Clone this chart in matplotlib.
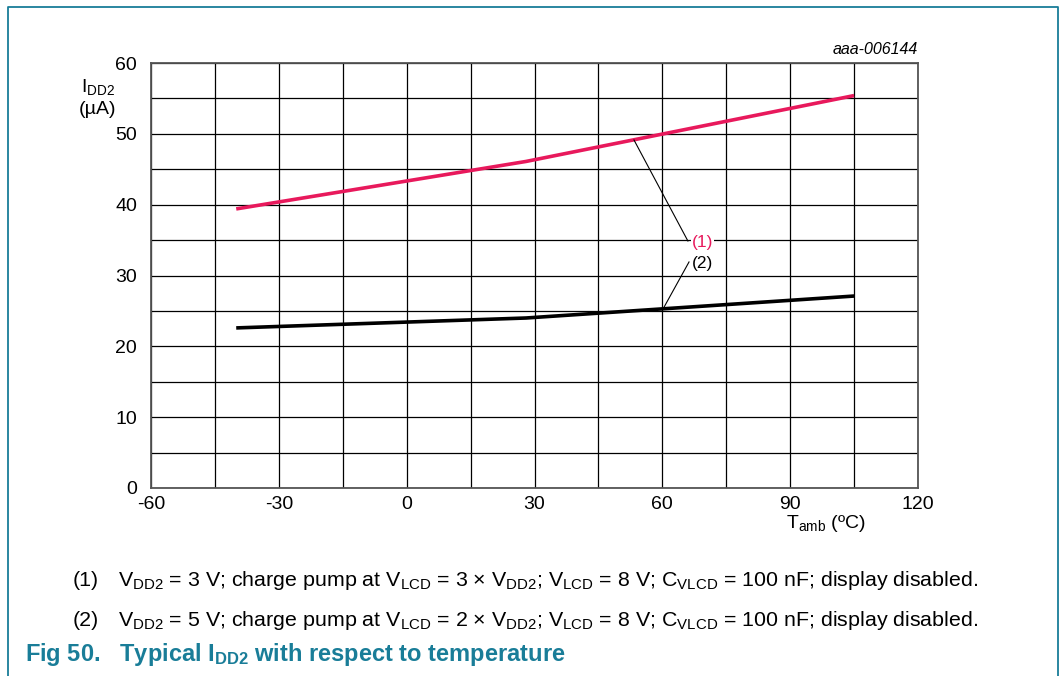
import matplotlib
matplotlib.use("Agg")
import matplotlib.pyplot as plt
from matplotlib.lines import Line2D
import numpy as np

plt.rcParams['font.family'] = ['Liberation Sans', 'DejaVu Sans']
plt.rcParams['mathtext.default'] = 'regular'
plt.rcParams['axes.unicode_minus'] = False

# Data
temps = [-40, 28, 105]
idd2_curve1 = [39.4, 46.1, 55.4]   # (1) VDD2 = 3 V
idd2_curve2 = [22.6, 24.0, 27.1]   # (2) VDD2 = 5 V
x_ticks = [-60, -30, 0, 30, 60, 90, 120]
y_ticks = [0, 10, 20, 30, 40, 50, 60]

RED = '#e8195c'
TEAL = '#197d98'

W, H = 1063, 676
fig = plt.figure(figsize=(W / 100, H / 100), dpi=100)

# axes placement in pixels
L, R, T, B = 151, 918, 63, 488
ax = fig.add_axes([L / W, 1 - B / H, (R - L) / W, (B - T) / H])
ax.set_xlim(-60, 120)
ax.set_ylim(0, 60)
ax.set_xticks(x_ticks)
ax.set_yticks(y_ticks)
ax.set_xticks(np.arange(-60, 121, 15), minor=True)
ax.set_yticks(np.arange(0, 61, 5), minor=True)
ax.grid(True, which='both', color='black', lw=0.9)
ax.tick_params(which='both', length=0, labelsize=14)
ax.tick_params(axis='x', pad=6)
ax.tick_params(axis='y', pad=10)
for s in ax.spines.values():
    s.set_color('#555555')
    s.set_linewidth(1.3)
ax.set_axisbelow(True)

ax.plot(temps, idd2_curve1, color=RED, lw=2.6, solid_capstyle='butt', zorder=3)
ax.plot(temps, idd2_curve2, color='black', lw=2.6, solid_capstyle='butt', zorder=3)

# leader lines and labels
ax.plot([53.35, 66.0], [49.13, 34.87], color='black', lw=0.8, zorder=4)
ax.plot([60.16, 66.26], [25.27, 31.91], color='black', lw=0.8, zorder=4)
ax.text(66.9, 34.6, '(1)', color=RED, fontsize=12.5, ha='left', va='center', zorder=5,
        bbox=dict(facecolor='white', edgecolor='none', pad=0.5))
ax.text(66.9, 31.76, '(2)', color='black', fontsize=12.5, ha='left', va='center', zorder=5,
        bbox=dict(facecolor='white', edgecolor='none', pad=0.5))

def fx(px):
    return px / W

def fy(py):
    return 1 - py / H

fig.text(fx(918), fy(49), 'aaa-006144', fontsize=11.5, style='italic', ha='right', va='center')
fig.text(fx(98), fy(87), 'I$_{DD2}$', fontsize=14, ha='center', va='center')
fig.text(fx(98), fy(110), '(µA)', fontsize=14, ha='center', va='center')
fig.text(fx(826), fy(524), 'T$_{amb}$ (ºC)', fontsize=14, ha='center', va='center')

FS = 15.4
fig.text(fx(73), fy(581), '(1)', fontsize=FS, ha='left', va='center')
fig.text(fx(118), fy(581),
         'V$_{DD2}$ = 3 V; charge pump at V$_{LCD}$ = 3 × V$_{DD2}$; V$_{LCD}$ = 8 V; '
         'C$_{VLCD}$ = 100 nF; display disabled.', fontsize=FS, ha='left', va='center')
fig.text(fx(73), fy(620), '(2)', fontsize=FS, ha='left', va='center')
fig.text(fx(118), fy(620),
         'V$_{DD2}$ = 5 V; charge pump at V$_{LCD}$ = 2 × V$_{DD2}$; V$_{LCD}$ = 8 V; '
         'C$_{VLCD}$ = 100 nF; display disabled.', fontsize=FS, ha='left', va='center')

fig.text(fx(25), fy(654), 'Fig 50.   Typical I$_{DD2}$ with respect to temperature',
         fontsize=17, fontweight='bold', color=TEAL, ha='left', va='center')

# outer frame (left, top, right)
fig.add_artist(Line2D([fx(8), fx(8), fx(1058), fx(1058)], [0, fy(7), fy(7), 0],
                      color=TEAL, lw=1.3, transform=fig.transFigure))

fig.savefig('out.png', dpi=100)
